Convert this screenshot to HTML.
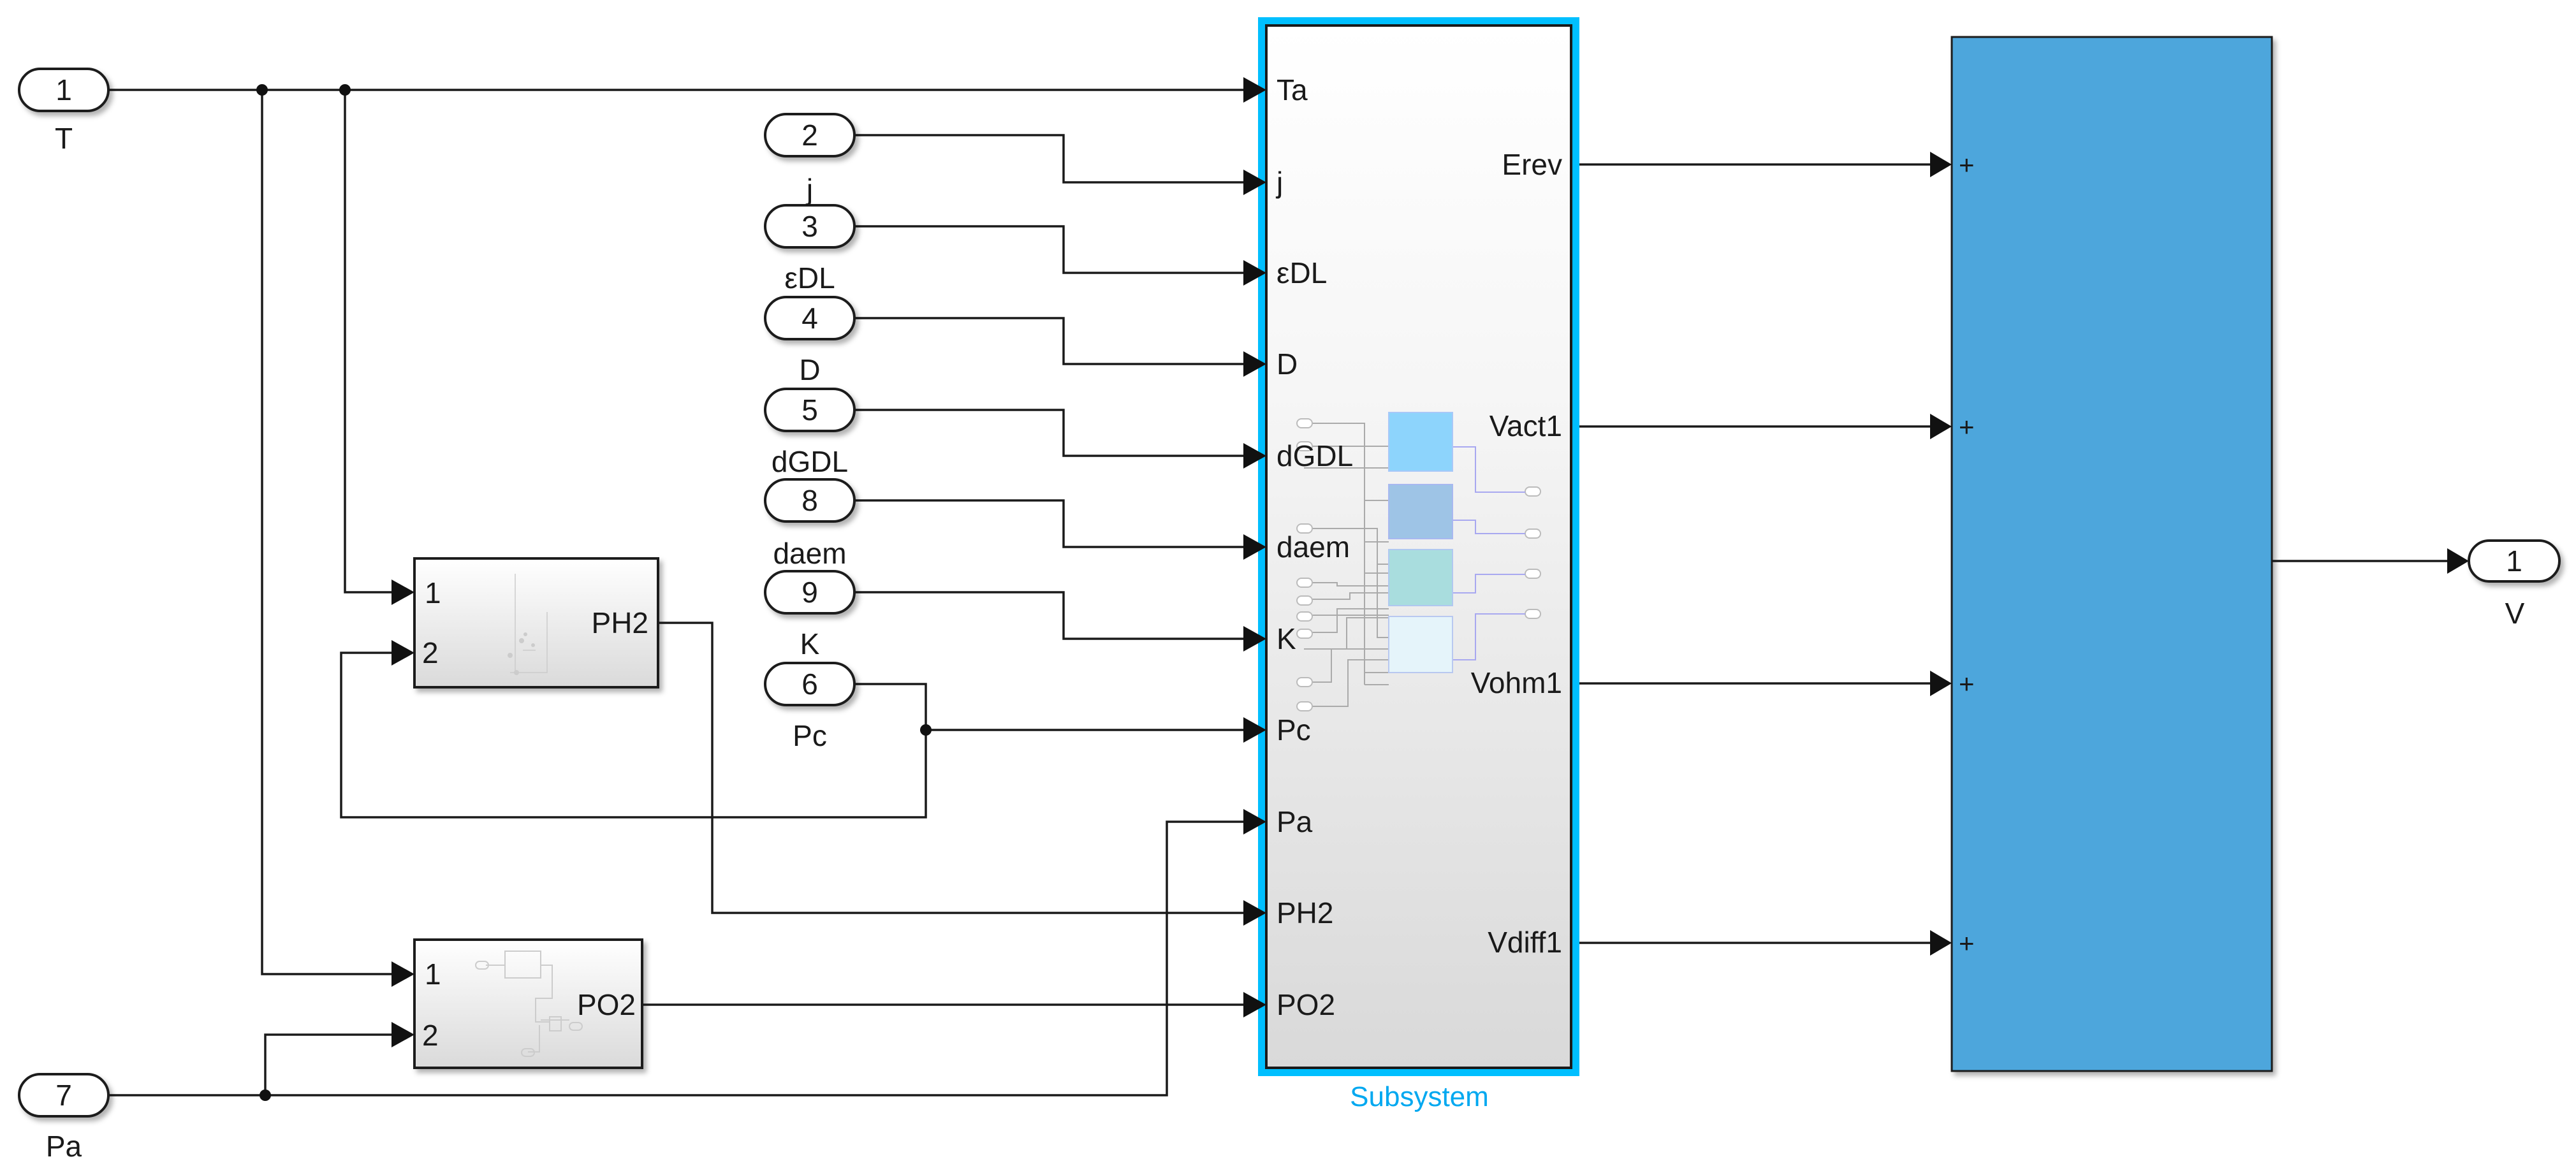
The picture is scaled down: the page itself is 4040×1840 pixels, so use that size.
<!DOCTYPE html>
<html><head><meta charset="utf-8"><style>
html,body{margin:0;padding:0;background:#fff;}
svg{display:block;}
text{font-family:"Liberation Sans",Arial,sans-serif;fill:#1a1a1a;}
</style></head><body>
<svg width="4040" height="1840" viewBox="0 0 4040 1840" xmlns="http://www.w3.org/2000/svg">
<defs>
<linearGradient id="gs" x1="0" y1="0" x2="0" y2="1">
<stop offset="0" stop-color="#ffffff"/><stop offset="0.35" stop-color="#f6f6f6"/><stop offset="1" stop-color="#d9d9d9"/>
</linearGradient>
<linearGradient id="gb" x1="0" y1="0" x2="0" y2="1">
<stop offset="0" stop-color="#ffffff"/><stop offset="0.3" stop-color="#f4f4f4"/><stop offset="1" stop-color="#dadada"/>
</linearGradient>
<filter id="sh" x="-5%" y="-5%" width="115%" height="115%"><feDropShadow dx="5" dy="6" stdDeviation="4" flood-color="#000" flood-opacity="0.3"/></filter>
</defs>

<!-- Subsystem -->
<rect x="1973" y="27" width="504" height="1661" fill="#00bfff"/>
<rect x="1986" y="40" width="478" height="1635" fill="url(#gs)" stroke="#1a1a1a" stroke-width="4"/>
<text x="2226" y="1735" font-size="44" text-anchor="middle" style="fill:#00a8f0">Subsystem</text>

<!-- subsystem icon -->
<g stroke="#aaa" stroke-width="2" fill="none">
<path d="M2045 664H2140V1074M2045 700H2178M2045 734H2178M2140 785H2178M2045 829H2160V1000H2178M2140 850H2178M2160 885H2178M2140 899H2178M2045 914H2097V919H2178M2045 940H2117V930H2178M2045 965H2178M2045 992H2097V955H2178M2045 1018H2112V969H2178M2045 1070H2088V1018H2178M2045 1108H2114V1035H2178M2140 1055H2178M2140 1074H2178"/>
</g>
<g fill="#fff" stroke="#bbb" stroke-width="2">
<rect x="2034" y="657" width="24" height="14" rx="7"/><rect x="2034" y="693" width="24" height="14" rx="7"/>
<rect x="2034" y="822" width="24" height="14" rx="7"/><rect x="2034" y="907" width="24" height="14" rx="7"/>
<rect x="2034" y="935" width="24" height="14" rx="7"/><rect x="2034" y="960" width="24" height="14" rx="7"/>
<rect x="2034" y="987" width="24" height="14" rx="7"/><rect x="2034" y="1063" width="24" height="14" rx="7"/>
<rect x="2034" y="1101" width="24" height="14" rx="7"/>
<rect x="2392" y="764" width="24" height="14" rx="7"/><rect x="2392" y="830" width="24" height="14" rx="7"/>
<rect x="2392" y="893" width="24" height="14" rx="7"/><rect x="2392" y="956" width="24" height="14" rx="7"/>
</g>
<g stroke="#a8a8f0" stroke-width="2" fill="none">
<path d="M2278 701H2314V772H2392M2278 816H2314V837H2392M2278 930H2314V901H2392M2278 1035H2314V963H2392"/>
</g>
<rect x="2178" y="647" width="100" height="92" fill="#8dd4fc" stroke="#a8c8f8" stroke-width="2"/>
<rect x="2178" y="760" width="100" height="85" fill="#9ec4e6" stroke="#a8b8f0" stroke-width="2"/>
<rect x="2178" y="862" width="100" height="88" fill="#a9ddde" stroke="#b0c8f0" stroke-width="2"/>
<rect x="2178" y="967" width="100" height="88" fill="#e5f4fa" stroke="#b8c8f0" stroke-width="2"/>

<!-- subsystem port labels -->
<g font-size="46">
<text x="2002" y="157">Ta</text>
<text x="2002" y="302">j</text>
<text x="2002" y="444">εDL</text>
<text x="2002" y="587">D</text>
<text x="2002" y="731">dGDL</text>
<text x="2002" y="874">daem</text>
<text x="2002" y="1018">K</text>
<text x="2002" y="1161">Pc</text>
<text x="2002" y="1305">Pa</text>
<text x="2002" y="1448">PH2</text>
<text x="2002" y="1592">PO2</text>
</g>
<g font-size="46" text-anchor="end">
<text x="2450" y="274">Erev</text>
<text x="2450" y="684">Vact1</text>
<text x="2450" y="1087">Vohm1</text>
<text x="2450" y="1494">Vdiff1</text>
</g>

<!-- Sum block -->
<rect x="3061" y="58" width="502" height="1622" fill="#4da6dc" stroke="#1a1a1a" stroke-width="3" filter="url(#sh)"/>
<g font-size="42" style="fill:#111">
<text x="3072" y="273">+</text><text x="3072" y="684">+</text><text x="3072" y="1087">+</text><text x="3072" y="1494">+</text>
</g>

<!-- PH2 block -->
<rect x="650" y="876" width="382" height="202" fill="url(#gb)" stroke="#1a1a1a" stroke-width="4" filter="url(#sh)"/>
<g stroke="#ccc" stroke-width="1.5" fill="none"><path d="M808 900V1055M858 960V1055H800M820 1020H840"/></g>
<g fill="#ccc"><circle cx="818" cy="1005" r="4"/><circle cx="824" cy="995" r="3"/><circle cx="836" cy="1012" r="3"/><circle cx="800" cy="1028" r="4"/><circle cx="810" cy="1055" r="4"/></g>
<text x="666" y="946" font-size="46">1</text>
<text x="662" y="1040" font-size="46">2</text>
<text x="1017" y="993" font-size="46" text-anchor="end">PH2</text>

<!-- PO2 block -->
<rect x="650" y="1474" width="357" height="201" fill="url(#gb)" stroke="#1a1a1a" stroke-width="4" filter="url(#sh)"/>
<g stroke="#ccc" stroke-width="2" fill="none">
<rect x="792" y="1492" width="56" height="42"/><path d="M762 1514H792M848 1514H866V1566H840V1603H862M848 1600H893M846 1608V1650H828"/>
<rect x="862" y="1595" width="18" height="22"/>
<rect x="746" y="1508" width="20" height="12" rx="6"/><rect x="893" y="1604" width="20" height="12" rx="6"/><rect x="818" y="1645" width="20" height="12" rx="6"/>
</g>
<text x="666" y="1544" font-size="46">1</text>
<text x="662" y="1640" font-size="46">2</text>
<text x="997" y="1592" font-size="46" text-anchor="end">PO2</text>

<!-- Lines -->
<g stroke="#1a1a1a" stroke-width="3.5" fill="none">
<path d="M170 141H1958"/>
<path d="M411 141V1528H626"/>
<path d="M541 141V929H626"/>
<path d="M1340 212H1668V286H1958"/>
<path d="M1340 355H1668V428H1958"/>
<path d="M1340 499H1668V571H1958"/>
<path d="M1340 643H1668V715H1958"/>
<path d="M1340 785H1668V858H1958"/>
<path d="M1340 929H1668V1002H1958"/>
<path d="M1340 1073H1452V1282H535V1024H626"/>
<path d="M1452 1145H1958"/>
<path d="M1032 977H1117V1432H1958"/>
<path d="M1007 1576H1958"/>
<path d="M170 1718H1830V1289H1958"/>
<path d="M416 1718V1623H626"/>
<path d="M2477 258H3037"/>
<path d="M2477 669H3037"/>
<path d="M2477 1072H3037"/>
<path d="M2477 1479H3037"/>
<path d="M3563 880H3848"/>
</g>
<!-- junctions -->
<g fill="#111">
<circle cx="411" cy="141" r="9"/><circle cx="541" cy="141" r="9"/>
<circle cx="1452" cy="1145" r="9"/><circle cx="416" cy="1718" r="9"/>
</g>
<!-- arrowheads -->
<g fill="#111">
<path d="M1950 121L1986 141L1950 161Z"/>
<path d="M1950 266L1986 286L1950 306Z"/>
<path d="M1950 408L1986 428L1950 448Z"/>
<path d="M1950 551L1986 571L1950 591Z"/>
<path d="M1950 695L1986 715L1950 735Z"/>
<path d="M1950 838L1986 858L1950 878Z"/>
<path d="M1950 982L1986 1002L1950 1022Z"/>
<path d="M1950 1125L1986 1145L1950 1165Z"/>
<path d="M1950 1269L1986 1289L1950 1309Z"/>
<path d="M1950 1412L1986 1432L1950 1452Z"/>
<path d="M1950 1556L1986 1576L1950 1596Z"/>
<path d="M614 909L650 929L614 949Z"/>
<path d="M614 1004L650 1024L614 1044Z"/>
<path d="M614 1508L650 1528L614 1548Z"/>
<path d="M614 1603L650 1623L614 1643Z"/>
<path d="M3027 238L3061 258L3027 278Z"/>
<path d="M3027 649L3061 669L3027 689Z"/>
<path d="M3027 1052L3061 1072L3027 1092Z"/>
<path d="M3027 1459L3061 1479L3027 1499Z"/>
<path d="M3838 860L3872 880L3838 900Z"/>
</g>

<!-- Inports -->
<g fill="#fff" stroke="#1a1a1a" stroke-width="4" filter="url(#sh)">
<rect x="30" y="108" width="140" height="66" rx="33"/>
<rect x="1200" y="179" width="140" height="66" rx="33"/>
<rect x="1200" y="322" width="140" height="66" rx="33"/>
<rect x="1200" y="466" width="140" height="66" rx="33"/>
<rect x="1200" y="610" width="140" height="66" rx="33"/>
<rect x="1200" y="752" width="140" height="66" rx="33"/>
<rect x="1200" y="896" width="140" height="66" rx="33"/>
<rect x="1200" y="1040" width="140" height="66" rx="33"/>
<rect x="30" y="1685" width="140" height="66" rx="33"/>
<rect x="3872" y="848" width="142" height="64" rx="32"/>
</g>
<g font-size="46" text-anchor="middle">
<text x="100" y="157">1</text>
<text x="1270" y="228">2</text>
<text x="1270" y="371">3</text>
<text x="1270" y="515">4</text>
<text x="1270" y="659">5</text>
<text x="1270" y="801">8</text>
<text x="1270" y="945">9</text>
<text x="1270" y="1089">6</text>
<text x="100" y="1734">7</text>
<text x="3943" y="896">1</text>
<text x="100" y="233">T</text>
<text x="1270" y="313">j</text>
<text x="1270" y="452">εDL</text>
<text x="1270" y="596">D</text>
<text x="1270" y="740">dGDL</text>
<text x="1270" y="884">daem</text>
<text x="1270" y="1026">K</text>
<text x="1270" y="1170">Pc</text>
<text x="100" y="1814">Pa</text>
<text x="3944" y="978">V</text>
</g>
</svg>
</body></html>
